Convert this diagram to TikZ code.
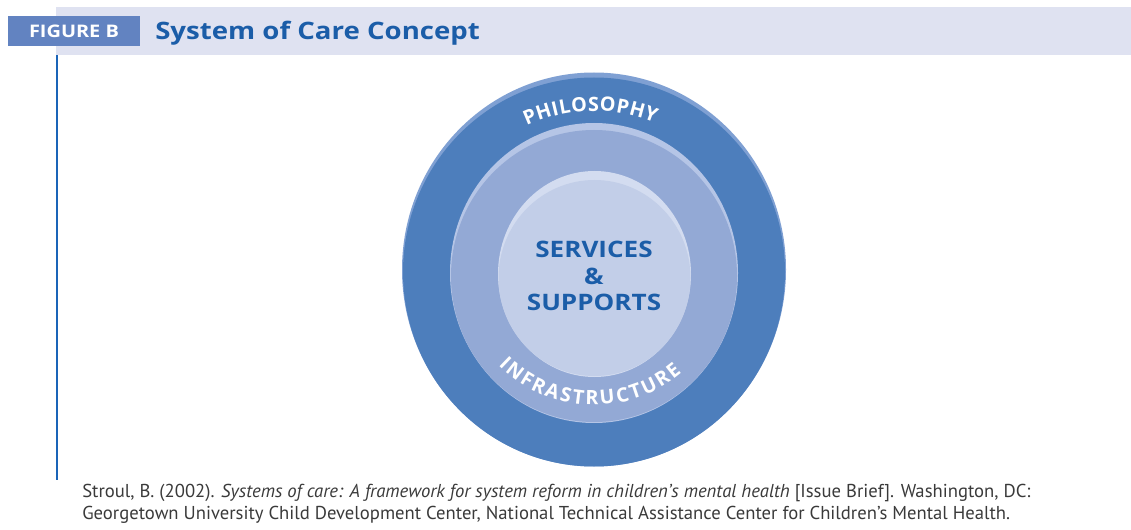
\documentclass[tikz,border=0pt]{standalone}
\usepackage{fontspec}
\setmainfont{Open Sans}
\newfontfamily\headfont[FakeStretch=1.15]{Open Sans}
\newfontfamily\citefont{PT Sans}
\usetikzlibrary{calc}
\definecolor{bandlav}{HTML}{DFE2F1}
\definecolor{figblue}{HTML}{6283C1}
\definecolor{titleblue}{HTML}{1B5DA8}
\definecolor{ruleblue}{HTML}{1A64B8}
\definecolor{outerring}{HTML}{4D7EBC}
\definecolor{outerrim}{HTML}{7FA0D3}
\definecolor{midring}{HTML}{93A9D5}
\definecolor{midrim}{HTML}{B5C5E6}
\definecolor{innerdisc}{HTML}{C2CEE8}
\definecolor{innerrim}{HTML}{D3DCF0}
\definecolor{citegray}{HTML}{3A3A3A}
\tikzset{
  figtag/.style={rectangle, fill=figblue, text=white, inner sep=0pt, minimum width=99pt, minimum height=22.5pt, font=\headfont\fontsize{13}{13}\selectfont\bfseries},
  headline/.style={text=titleblue, inner sep=0pt, anchor=base west, font=\headfont\fontsize{18}{18}\selectfont\bfseries},
  arcletter/.style={text=white, inner sep=0pt, font=\fontsize{14.8}{14.8}\selectfont\bfseries},
  corelabel/.style={text=titleblue, inner sep=0pt, anchor=base, font=\headfont\fontsize{17}{17}\selectfont\bfseries},
  citeline/.style={text=citegray, inner sep=0pt, anchor=base west, font=\citefont\fontsize{14}{14}\selectfont}
}

\begin{document}
\begin{tikzpicture}[x=0.75pt, y=0.75pt]
  \useasboundingbox (0,0) rectangle (1131,529);
  % header
  \fill[bandlav] (56,474) rectangle (1131,522);
  \node[figtag] (tag) at (74,498) {FIGURE B};
  \node[headline] (title) at (155,489) {System of Care Concept};
  \draw[ruleblue, line width=1.2pt] (57,474) -- (57,49);
  % rings
  \coordinate (ctr) at (594,259);
  \fill[outerrim] (594,259.5) ellipse [x radius=192, y radius=197];
  \fill[outerring] (594,257) ellipse [x radius=191, y radius=194.5];
  \fill[midrim] (594,256) ellipse [x radius=144, y radius=150];
  \fill[midring] (594,253) ellipse [x radius=143, y radius=146];
  \fill[innerrim] (594.5,255) ellipse [x radius=96.5, y radius=103];
  \fill[innerdisc] (594.5,251) ellipse [x radius=96, y radius=98];
  % curved labels
  \foreach \ch/\ang [count=\i] in {P/112.8, H/107.7, I/103.6, L/100.2, O/95.2, S/90.2, O/85.2, P/80.0, H/74.8, Y/69.8}
    \node[arcletter, rotate=\ang-90] (phil-\i) at ($(ctr)+(\ang:166)$) {\ch};
  \foreach \ch/\ang [count=\i] in {I/226.3, N/232.0, F/238.6, R/244.6, A/251.1, S/257.3, T/263.0, R/269.1, U/275.9, C/282.8, T/288.8, U/295.4, R/302.2, E/308.2}
    \node[arcletter, rotate=\ang+90] (infra-\i) at ($(ctr)+(\ang:128)$) {\ch};
  % core
  \node[corelabel] (services) at (594,272) {SERVICES};
  \node[corelabel] (amp) at (594,244) {\&};
  \node[corelabel] (supports) at (594,219) {SUPPORTS};
  % source
  \node[citeline] (cite1) at (82,32) {Stroul, B. (2002). \textit{Systems of care: A framework for system reform in children’s mental health} [Issue Brief]. Washington, DC:};
  \node[citeline] (cite2) at (82,10) {Georgetown University Child Development Center, National Technical Assistance Center for Children’s Mental Health.};
\end{tikzpicture}
\end{document}
